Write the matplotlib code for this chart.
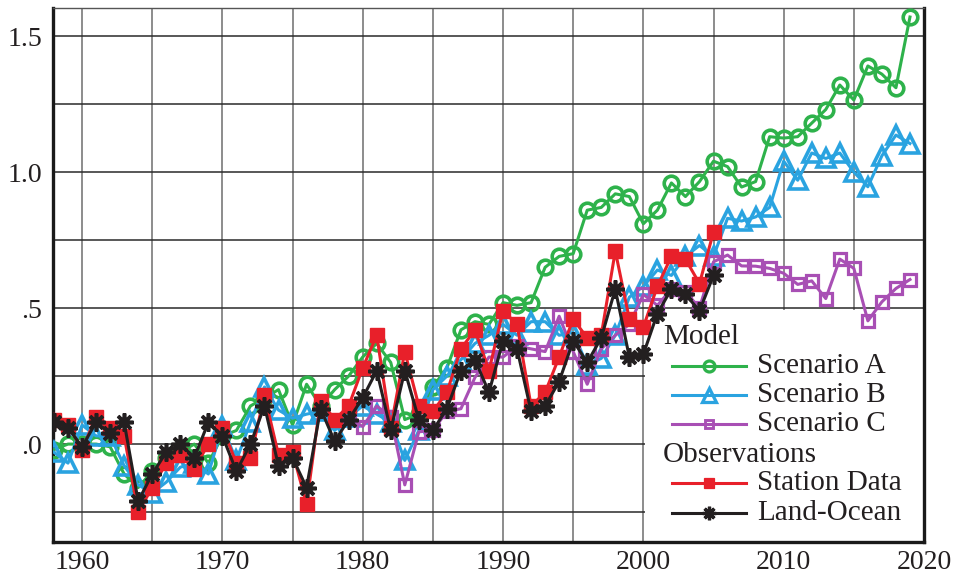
import matplotlib
matplotlib.use('Agg')
import matplotlib.pyplot as plt
from matplotlib.patches import Rectangle
from matplotlib.lines import Line2D

# ---------------- data ----------------
years_model = list(range(1958, 2020))
scenario_a = [-0.02, 0.00, 0.00, 0.00, -0.01, -0.11, -0.16, -0.10, -0.05, -0.03,
              0.00, -0.07, 0.03, 0.05, 0.14, 0.17, 0.20, 0.07, 0.22, 0.14,
              0.20, 0.25, 0.32, 0.37, 0.30, 0.09, 0.11, 0.21, 0.28, 0.42,
              0.45, 0.44, 0.52, 0.51, 0.52, 0.65, 0.69, 0.70, 0.86, 0.87,
              0.92, 0.91, 0.81, 0.86, 0.96, 0.91, 0.965, 1.04, 1.02, 0.945,
              0.965, 1.13, 1.125, 1.13, 1.18, 1.23, 1.32, 1.265, 1.39, 1.36, 1.31, 1.57]
scenario_b = [-0.03, -0.07, 0.07, 0.03, 0.03, -0.08, -0.15, -0.18, -0.14, -0.085,
              -0.07, -0.11, 0.065, -0.06, 0.08, 0.21, 0.125, 0.095, 0.11, 0.12,
              0.05, 0.10, 0.14, 0.11, 0.08, -0.06, 0.05, 0.20, 0.25, 0.31,
              0.37, 0.40, 0.44, 0.40, 0.45, 0.45, 0.40, 0.41, 0.29, 0.315,
              0.40, 0.54, 0.58, 0.64, 0.62, 0.69, 0.73, 0.69, 0.83, 0.82,
              0.835, 0.87, 1.04, 0.97, 1.07, 1.05, 1.07, 1.00, 0.946, 1.06, 1.136, 1.105]
years_c = list(range(1979, 2020))
scenario_c = [0.10,
              0.064, 0.14, 0.10, -0.15, 0.045, 0.05, 0.12, 0.13, 0.245, 0.32,
              0.32, 0.36, 0.35, 0.34, 0.47, 0.34, 0.22, 0.35, 0.40, 0.44,
              0.55, 0.51, 0.57, 0.56, 0.50, 0.67, 0.695, 0.655, 0.654, 0.646,
              0.628, 0.587, 0.60, 0.535, 0.68, 0.646, 0.453, 0.523, 0.572, 0.605]
years_obs = list(range(1958, 2006))
station_data = [0.09, 0.07, -0.02, 0.10, 0.06, 0.03, -0.25, -0.16, -0.07, -0.04,
                -0.09, 0.00, 0.06, -0.07, -0.05, 0.18, -0.04, -0.03, -0.22, 0.16,
                0.09, 0.14, 0.28, 0.40, 0.06, 0.34, 0.14, 0.12, 0.19, 0.35,
                0.42, 0.27, 0.49, 0.44, 0.14, 0.19, 0.32, 0.46, 0.39, 0.40,
                0.71, 0.46, 0.43, 0.58, 0.69, 0.68, 0.59, 0.78]
land_ocean = [0.08, 0.06, -0.01, 0.08, 0.04, 0.08, -0.21, -0.11, -0.03, 0.00,
              -0.05, 0.08, 0.03, -0.10, 0.00, 0.14, -0.08, -0.05, -0.16, 0.13,
              0.01, 0.09, 0.17, 0.27, 0.05, 0.27, 0.09, 0.05, 0.13, 0.27,
              0.31, 0.19, 0.38, 0.35, 0.12, 0.14, 0.23, 0.38, 0.30, 0.39,
              0.57, 0.32, 0.33, 0.48, 0.57, 0.55, 0.49, 0.62]

xtick_values = [1960, 1970, 1980, 1990, 2000, 2010, 2020]
xtick_labels = ['1960', '1970', '1980', '1990', '2000', '2010', '2020']
ytick_values = [0.0, 0.5, 1.0, 1.5]
ytick_labels = ['.0', '.5', '1.0', '1.5']

legend_groups = ['Model', 'Observations']
series_labels = ['Scenario A', 'Scenario B', 'Scenario C', 'Station Data', 'Land-Ocean']

# ---------------- style ----------------
GREEN = '#2eb24b'
BLUE = '#2aa3e0'
PURPLE = '#a84fb4'
RED = '#e8202a'
BLACK = '#231f20'
LW = 2.2
STAR = (8, 2, 0)

plt.rcParams['font.family'] = ['Liberation Serif', 'DejaVu Serif']

fig = plt.figure(figsize=(9.58, 5.76), dpi=100)
ax = fig.add_axes([53 / 958, 1 - 542 / 576, 871 / 958, 534.5 / 576])

styles = [
    dict(color=GREEN, marker='o', ms=10.5, mfc='none', mec=GREEN, mew=2.6, zorder=3),
    dict(color=BLUE, marker='^', ms=12.5, mfc='none', mec=BLUE, mew=2.6, zorder=4),
    dict(color=PURPLE, marker='s', ms=8.5, mfc='none', mec=PURPLE, mew=2.3, zorder=5),
    dict(color=RED, marker='s', ms=9.5, mfc=RED, mec=RED, mew=1.0, zorder=6),
    dict(color=BLACK, marker=STAR, ms=13, mfc=BLACK, mec=BLACK, mew=2.6, zorder=7),
]
data = [(years_model, scenario_a), (years_model, scenario_b), (years_c, scenario_c),
        (years_obs, station_data), (years_obs, land_ocean)]

for (xs, ys), st in zip(data, styles):
    ax.plot(xs, ys, lw=LW, **st)

ax.set_xlim(1957.93, 2020.0)
ax.set_ylim(-0.36, 1.605)

ax.set_xticks(xtick_values)
ax.set_xticklabels(xtick_labels)
ax.set_yticks(ytick_values)
ax.set_yticklabels(ytick_labels)
ax.set_xticks(list(range(1960, 2020, 5)), minor=True)
ax.set_yticks([-0.25, 0.25, 0.75, 1.25], minor=True)
ax.tick_params(axis='both', which='both', length=0, labelsize=20, colors='#231f20')
ax.tick_params(axis='x', pad=6)
ax.tick_params(axis='y', pad=8)
ax.grid(True, axis='x', which='both', color='#6e6e6e', lw=1.1)
ax.grid(True, axis='y', which='both', color='#2a2a2a', lw=1.1)
ax.set_axisbelow(True)

for side in ['left', 'bottom', 'right']:
    ax.spines[side].set_linewidth(2.4)
    ax.spines[side].set_color('#1a1a1a')
ax.spines['top'].set_linewidth(1.0)
ax.spines['top'].set_color('#555555')

# ---------------- legend (drawn manually) ----------------
T = ax.transAxes
def fx(px):
    return (px - 53) / 871.0
def fy(py):
    return (542 - py) / 534.5

ax.add_patch(Rectangle((fx(645), 0), 1 - fx(645), fy(310), transform=T,
                       facecolor='white', edgecolor='none', zorder=1.5))

row_y = [337, 366, 395, 424, 455, 483, 513]
rows = ['h0', 0, 1, 2, 'h1', 3, 4]
for py, r in zip(row_y, rows):
    if isinstance(r, str):
        ax.text(fx(663), fy(py), legend_groups[int(r[1])], transform=T,
                fontsize=21, va='center', ha='left', color='#231f20', zorder=10)
    else:
        st = styles[r]
        ax.add_line(Line2D([fx(672), fx(746)], [fy(py), fy(py)], transform=T,
                           color=st['color'], lw=LW, zorder=10))
        ax.add_line(Line2D([fx(709)], [fy(py)], transform=T, ls='none',
                           marker=st['marker'], ms=st['ms'] * 0.75, mfc=st['mfc'],
                           mec=st['mec'], mew=st['mew'] * 0.9, zorder=11))
        ax.text(fx(757), fy(py), series_labels[r], transform=T,
                fontsize=21, va='center', ha='left', color='#231f20', zorder=10)

fig.savefig('out.png', dpi=100, facecolor='white')
